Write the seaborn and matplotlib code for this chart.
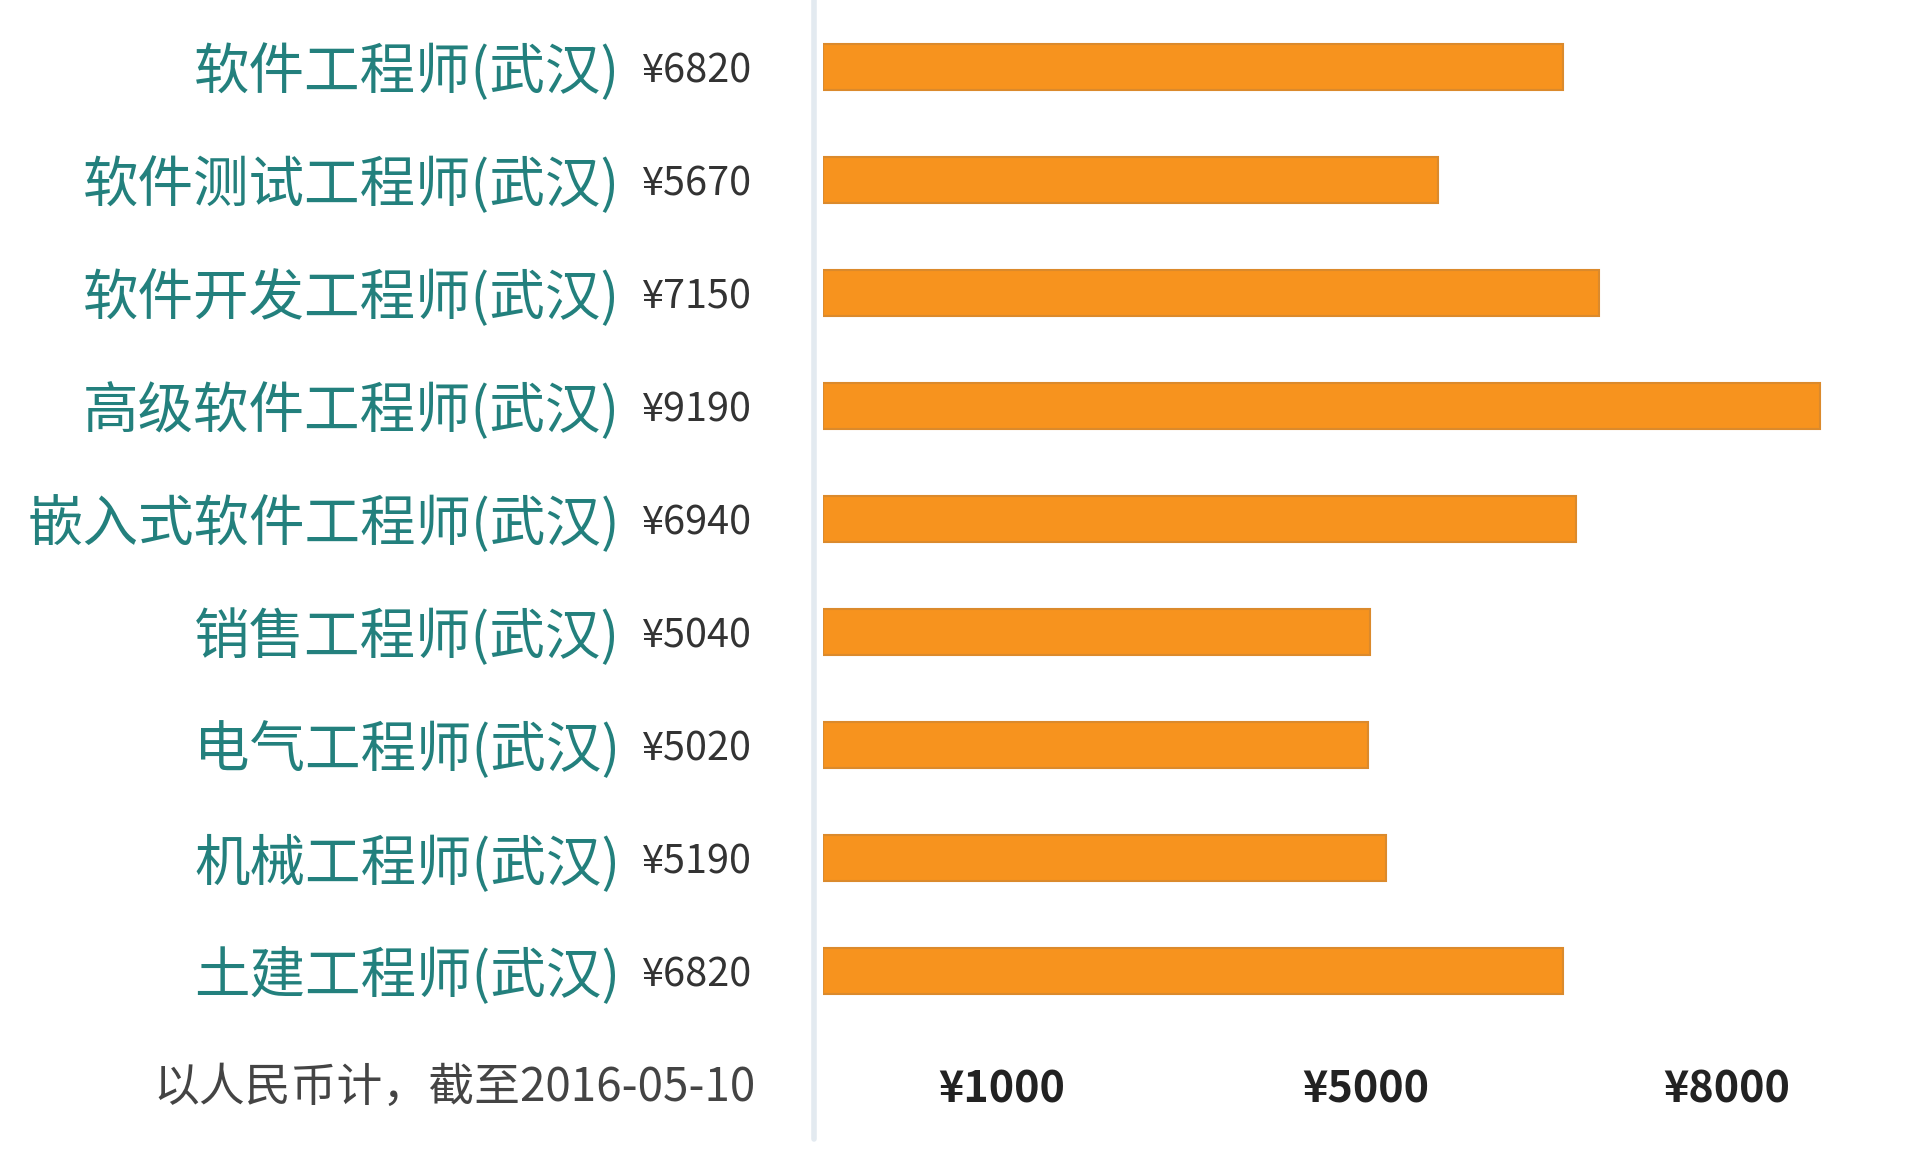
import matplotlib
matplotlib.use('Agg')
import matplotlib.pyplot as plt
from matplotlib.lines import Line2D
from matplotlib import transforms
import seaborn as sns
import pandas as pd

# data
jobs = ['软件工程师(武汉)', '软件测试工程师(武汉)', '软件开发工程师(武汉)', '高级软件工程师(武汉)',
        '嵌入式软件工程师(武汉)', '销售工程师(武汉)', '电气工程师(武汉)', '机械工程师(武汉)',
        '土建工程师(武汉)']
salary = [6820, 5670, 7150, 9190, 6940, 5040, 5020, 5190, 6820]
tick_labels = ['¥1000', '¥5000', '¥8000']
tick_pos = [1650, 5000, 8330]   # where the labels sit in the original picture
note = '以人民币计，截至2016-05-10'

df = pd.DataFrame({'job': jobs, 'salary': salary})

sns.set_theme(style='white')
plt.rcParams['font.family'] = ['Noto Sans CJK SC', 'DejaVu Sans']

fig = plt.figure(figsize=(19.2, 11.69), dpi=100)
ax = fig.add_axes([823 / 1920, 1 - 1030 / 1169, 1 - 823 / 1920, 1030 / 1169])

sns.barplot(data=df, x='salary', y='job', orient='h', color='#F7931E',
            edgecolor='#DB8A2C', linewidth=1.5, width=0.41, saturation=1, ax=ax)

ax.set_xlim(0, 10110)
ax.set_ylim(8.522, -0.593)
ax.set_xlabel('')
ax.set_ylabel('')
for s in ax.spines.values():
    s.set_visible(False)

ax.set_xticks(tick_pos)
ax.set_xticklabels(tick_labels, fontsize=31, fontweight='bold', color='#222222')
ax.tick_params(axis='x', length=0, pad=27)
ax.tick_params(axis='y', length=0, pad=146)
for lab in ax.get_yticklabels():
    lab.set_fontsize(40)
    lab.set_color('#23807D')
    lab.set_fontweight('medium')

# value labels left of the bars
trans = transforms.blended_transform_factory(fig.transFigure, ax.transData)
for i, v in enumerate(salary):
    ax.text(642 / 1920, i, '¥%d' % v, transform=trans, ha='left', va='center_baseline',
            fontsize=28.5, color='#333333', clip_on=False)

# note at the bottom left
fig.text(756 / 1920, 1 - 1088 / 1169, note, ha='right', va='center',
         fontsize=33, color='#444444')

# thin separator line
fig.add_artist(Line2D([814 / 1920, 814 / 1920], [1, 1 - 1139 / 1169],
                      transform=fig.transFigure, color='#E3EAF0', linewidth=4))

fig.savefig('out.png', dpi=100)
